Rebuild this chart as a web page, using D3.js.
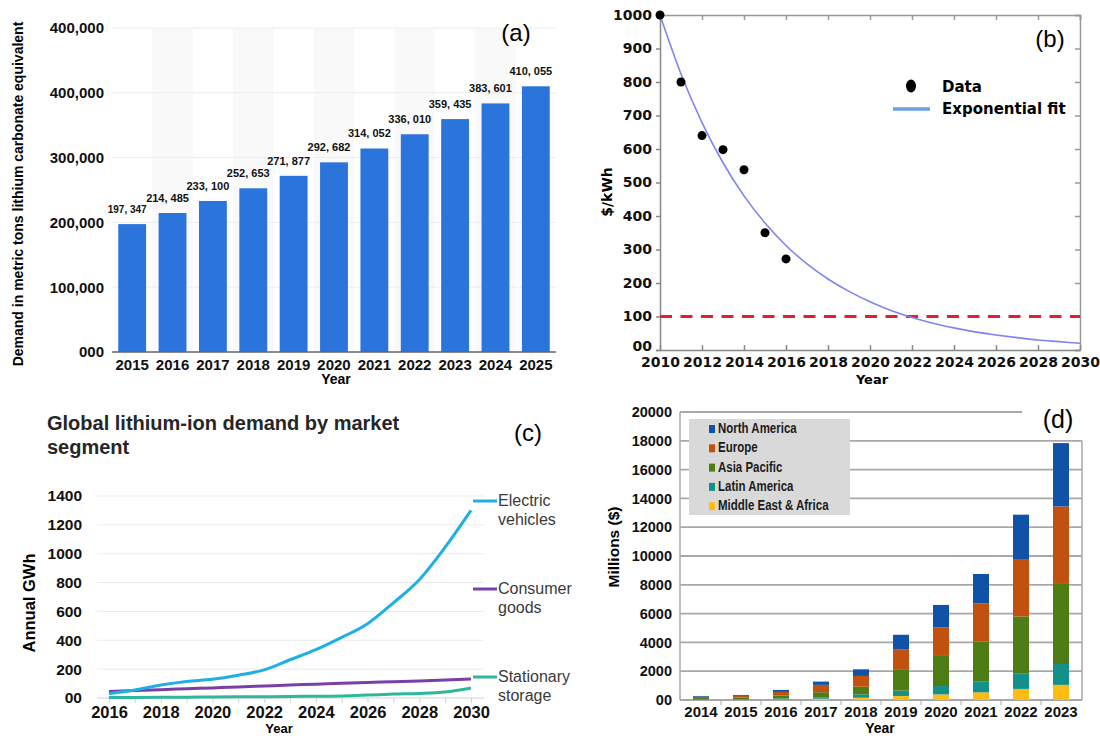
<!DOCTYPE html>
<html>
<head>
<meta charset="utf-8">
<script src="https://cdn.jsdelivr.net/npm/d3@7"></script>
<style>
  body { margin: 0; background: #fff; }
  svg { display: block; }
</style>
</head>
<body>
<div id="fig"></div>
<script>
// ---------- data ----------
// (a) lithium demand
const demandYears = [2015, 2016, 2017, 2018, 2019, 2020, 2021, 2022, 2023, 2024, 2025];
const demandValues = [197347, 214485, 233100, 252653, 271877, 292682, 314052, 336010, 359435, 383601, 410055];
const demandTicks = [0, 100000, 200000, 300000, 400000, 500000];
const demandTickLabels = ["000", "100,000", "200,000", "300,000", "400,000", "400,000"];

// (b) battery pack cost
const costYears = [2010, 2011, 2012, 2013, 2014, 2015, 2016];
const costValues = [1000, 800, 640, 598, 538, 350, 272];
const fitYears = [2010, 2011, 2012, 2013, 2014, 2015, 2016, 2017, 2018, 2019, 2020,
                  2021, 2022, 2023, 2024, 2025, 2026, 2027, 2028, 2029, 2030];
const fitValues = [1000, 824, 679, 559, 460, 379, 312, 257, 212, 175, 144,
                   118, 97, 80, 66, 54, 45, 37, 30, 25, 20];
const costTarget = 100;
const costTicks = [0, 100, 200, 300, 400, 500, 600, 700, 800, 900, 1000];
const costTickLabels = ["00", "100", "200", "300", "400", "500", "600", "700", "800", "900", "1000"];
const costYearTicks = [2010, 2012, 2014, 2016, 2018, 2020, 2022, 2024, 2026, 2028, 2030];

// (c) demand by market segment
const segYears = [2016, 2017, 2018, 2019, 2020, 2021, 2022, 2023, 2024, 2025, 2026, 2027, 2028, 2029, 2030];
const evValues = [30, 55, 90, 115, 130, 158, 195, 265, 335, 420, 515, 660, 820, 1045, 1300];
const consumerValues = [45, 52, 58, 64, 70, 76, 83, 90, 96, 103, 108, 113, 118, 124, 132];
const storageValues = [3, 4, 5, 6, 7, 8, 9, 10, 12, 14, 20, 27, 32, 42, 70];
const segTicks = [0, 200, 400, 600, 800, 1000, 1200, 1400];
const segTickLabels = ["00", "200", "400", "600", "800", "1000", "1200", "1400"];

// (d) market by region, millions $
const regionYears = [2014, 2015, 2016, 2017, 2018, 2019, 2020, 2021, 2022, 2023];
const meaValues = [15, 20, 40, 90, 160, 280, 390, 530, 770, 1050];
const latamValues = [30, 40, 70, 100, 230, 370, 580, 740, 1090, 1450];
const apacValues = [90, 120, 200, 350, 540, 1440, 2090, 2780, 3940, 5560];
const europeValues = [95, 110, 250, 510, 740, 1440, 1990, 2660, 3940, 5380];
const naValues = [50, 60, 140, 230, 460, 1000, 1550, 2040, 3130, 4400];
const regionTicks = [0, 2000, 4000, 6000, 8000, 10000, 12000, 14000, 16000, 18000, 20000];
const regionTickLabels = ["00", "2000", "4000", "6000", "8000", "10000", "12000", "14000", "16000", "18000", "20000"];

// ---------- canvas ----------
const svg = d3.select("#fig").append("svg")
    .attr("width", 1100)
    .attr("height", 736)
    .style("font-family", "'Liberation Sans', Arial, sans-serif");

const BOLD = "'Liberation Sans', Arial, sans-serif";
const WIDE = "'DejaVu Sans', Verdana, sans-serif";

function styleAxis(g, size, family) {
    g.select(".domain").remove();
    g.selectAll("text")
        .attr("fill", "#111")
        .style("font-family", family)
        .style("font-weight", "bold")
        .style("font-size", size + "px");
}

// ================= (a) =================
const xA = d3.scaleBand().domain(demandYears).range([112, 556]).paddingInner(0.31).paddingOuter(0.155);
const yA = d3.scaleLinear().domain([0, 500000]).range([352, 28]);
const gA = svg.append("g");

// faint alternate column shading
gA.append("g").selectAll("rect")
    .data(demandYears.filter((d, i) => i % 2 === 1))
    .join("rect")
    .attr("x", d => xA(d) - xA.step() * xA.paddingInner() / 2)
    .attr("width", xA.step())
    .attr("y", yA(500000))
    .attr("height", yA(0) - yA(500000))
    .attr("fill", "#f9f9f9");

gA.append("g").selectAll("line")
    .data(demandTicks.slice(1))
    .join("line")
    .attr("x1", 112).attr("x2", 556)
    .attr("y1", d => yA(d)).attr("y2", d => yA(d))
    .attr("stroke", "#ececec");

gA.append("g").selectAll("rect")
    .data(demandYears)
    .join("rect")
    .attr("x", d => xA(d))
    .attr("width", xA.bandwidth())
    .attr("y", (d, i) => yA(demandValues[i]))
    .attr("height", (d, i) => yA(0) - yA(demandValues[i]))
    .attr("fill", "#2a74dc");

gA.append("g").selectAll("text")
    .data(demandYears)
    .join("text")
    .attr("x", d => xA(d) + xA.bandwidth() / 2 - 5)
    .attr("y", (d, i) => yA(demandValues[i]) - 11)
    .attr("text-anchor", "middle")
    .style("font-weight", "bold")
    .style("font-size", (d, i) => i === 0 ? "10px" : "11px")
    .attr("fill", "#111")
    .text((d, i) => d3.format(",")(demandValues[i]).replace(",", ", "));

gA.append("line")
    .attr("x1", 112).attr("x2", 556)
    .attr("y1", yA(0)).attr("y2", yA(0))
    .attr("stroke", "#666").attr("stroke-width", 1.5);

gA.append("g")
    .attr("transform", "translate(112,0)")
    .call(d3.axisLeft(yA).tickValues(demandTicks).tickFormat((d, i) => demandTickLabels[i]).tickSize(0).tickPadding(8))
    .call(g => styleAxis(g, 15, BOLD));

gA.append("g")
    .attr("transform", `translate(0,${yA(0)})`)
    .call(d3.axisBottom(xA).tickSize(0).tickPadding(7))
    .call(g => styleAxis(g, 15, BOLD));

gA.append("text")
    .attr("transform", "translate(23,194) rotate(-90)")
    .attr("text-anchor", "middle")
    .style("font-weight", "bold").style("font-size", "14px")
    .text("Demand in metric tons lithium carbonate equivalent");

gA.append("text")
    .attr("x", 336).attr("y", 384)
    .attr("text-anchor", "middle")
    .style("font-weight", "bold").style("font-size", "14px")
    .text("Year");

gA.append("text")
    .attr("x", 516).attr("y", 41)
    .attr("text-anchor", "middle")
    .style("font-size", "24px")
    .text("(a)");

// ================= (b) =================
const xB = d3.scaleLinear().domain([2010, 2030]).range([660, 1080]);
const yB = d3.scaleLinear().domain([0, 1000]).range([350, 15]);
const gB = svg.append("g");

// frame
gB.append("g")
    .attr("transform", `translate(0,${yB(1000)})`)
    .call(d3.axisTop(xB).tickValues(costYearTicks).tickSize(-5).tickFormat(""))
    .call(g => g.selectAll("path,line").attr("stroke", "#999").attr("stroke-width", 1.5));
gB.append("g")
    .attr("transform", `translate(${xB(2030)},0)`)
    .call(d3.axisRight(yB).tickValues(costTicks).tickSize(-5).tickFormat(""))
    .call(g => g.selectAll("path,line").attr("stroke", "#999").attr("stroke-width", 1.5));

gB.append("g")
    .attr("transform", `translate(${xB(2010)},0)`)
    .call(d3.axisLeft(yB).tickValues(costTicks).tickFormat((d, i) => costTickLabels[i]).tickSize(4).tickPadding(4))
    .call(g => {
        g.selectAll("text").attr("fill", "#111").style("font-family", WIDE)
            .style("font-weight", "bold").style("font-size", "14px");
        g.selectAll("path,line").attr("stroke", "#888").attr("stroke-width", 1.5);
        g.selectAll(".tick").filter(d => d === 0).select("text").attr("y", -4);
    });

gB.append("g")
    .attr("transform", `translate(0,${yB(0)})`)
    .call(d3.axisBottom(xB).tickValues(costYearTicks).tickFormat(d3.format("d")).tickSizeInner(-5).tickSizeOuter(0).tickPadding(7))
    .call(g => {
        g.selectAll("text").attr("fill", "#111").style("font-family", WIDE)
            .style("font-weight", "bold").style("font-size", "14px");
        g.selectAll("path,line").attr("stroke", "#888").attr("stroke-width", 1.5);
    });

gB.append("line")
    .attr("x1", xB(2010)).attr("x2", xB(2030))
    .attr("y1", yB(costTarget)).attr("y2", yB(costTarget))
    .attr("stroke", "#e3202a").attr("stroke-width", 3)
    .attr("stroke-dasharray", "12,8.5");

const fitLine = d3.line()
    .x((d, i) => xB(fitYears[i]))
    .y(d => yB(d))
    .curve(d3.curveMonotoneX);

gB.append("path")
    .datum(fitValues)
    .attr("d", fitLine)
    .attr("fill", "none")
    .attr("stroke", "#7f85ec")
    .attr("stroke-width", 1.6);

gB.append("g").selectAll("circle")
    .data(costValues)
    .join("circle")
    .attr("cx", (d, i) => xB(costYears[i]))
    .attr("cy", d => yB(d))
    .attr("r", 4.5)
    .attr("fill", "#000");

// legend
gB.append("ellipse").attr("cx", 911).attr("cy", 86).attr("rx", 5).attr("ry", 6.5).attr("fill", "#000");
gB.append("line").attr("x1", 893).attr("x2", 930).attr("y1", 109).attr("y2", 109)
    .attr("stroke", "#6aa2de").attr("stroke-width", 3.5);
gB.append("text").attr("x", 942).attr("y", 92)
    .style("font-family", WIDE).style("font-weight", "bold").style("font-size", "15px")
    .text("Data");
gB.append("text").attr("x", 942).attr("y", 114)
    .style("font-family", WIDE).style("font-weight", "bold").style("font-size", "15px")
    .text("Exponential fit");

gB.append("text")
    .attr("transform", "translate(612,192) rotate(-90)")
    .attr("text-anchor", "middle")
    .style("font-family", WIDE).style("font-weight", "bold").style("font-size", "14px")
    .text("$/kWh");

gB.append("text")
    .attr("x", 872).attr("y", 384)
    .attr("text-anchor", "middle")
    .style("font-family", WIDE).style("font-weight", "bold").style("font-size", "13px")
    .text("Year");

gB.append("text")
    .attr("x", 1050).attr("y", 47)
    .attr("text-anchor", "middle")
    .style("font-size", "24px")
    .text("(b)");

// ================= (c) =================
const xC = d3.scaleLinear().domain([2016, 2030]).range([109, 471]);
const yC = d3.scaleLinear().domain([0, 1400]).range([698, 496]);
const gC = svg.append("g");

gC.append("text").attr("x", 47).attr("y", 430)
    .style("font-weight", "bold").style("font-size", "20px").attr("fill", "#262626")
    .text("Global lithium-ion demand by market");
gC.append("text").attr("x", 47).attr("y", 454)
    .style("font-weight", "bold").style("font-size", "20px").attr("fill", "#262626")
    .text("segment");

gC.append("g").selectAll("line")
    .data(segTicks.slice(1))
    .join("line")
    .attr("x1", 97).attr("x2", 484)
    .attr("y1", d => yC(d)).attr("y2", d => yC(d))
    .attr("stroke", "#ebebeb");

gC.append("line")
    .attr("x1", 97).attr("x2", 484)
    .attr("y1", yC(0)).attr("y2", yC(0))
    .attr("stroke", "#d4d4d4").attr("stroke-width", 1.2);

gC.append("g")
    .attr("transform", "translate(97,0)")
    .call(d3.axisLeft(yC).tickValues(segTicks).tickFormat((d, i) => segTickLabels[i]).tickSize(0).tickPadding(15))
    .call(g => styleAxis(g, 15.5, BOLD));

gC.append("g")
    .attr("transform", `translate(0,${yC(0)})`)
    .call(d3.axisBottom(xC).tickValues(segYears).tickFormat(d => d % 2 === 0 ? d : "").tickSize(5).tickPadding(3))
    .call(g => {
        styleAxis(g, 16.5, BOLD);
        g.selectAll("line").attr("stroke", "#d4d4d4");
    });

const segLine = d3.line()
    .x((d, i) => xC(segYears[i]))
    .y(d => yC(d))
    .curve(d3.curveMonotoneX);

const segSeries = [
    { values: storageValues, color: "#2db79b", label: ["Stationary", "storage"], ly: 677 },
    { values: consumerValues, color: "#7a3fa6", label: ["Consumer", "goods"], ly: 589 },
    { values: evValues, color: "#1eb0e4", label: ["Electric", "vehicles"], ly: 501 }
];

segSeries.forEach(s => {
    gC.append("path")
        .datum(s.values)
        .attr("d", segLine)
        .attr("fill", "none")
        .attr("stroke", s.color)
        .attr("stroke-width", 3);
    gC.append("line")
        .attr("x1", 473).attr("x2", 497)
        .attr("y1", s.ly).attr("y2", s.ly)
        .attr("stroke", s.color).attr("stroke-width", 3);
    gC.append("text")
        .attr("x", 498).attr("y", s.ly + 5)
        .style("font-size", "16px").attr("fill", "#3a3a3a")
        .selectAll("tspan")
        .data(s.label)
        .join("tspan")
        .attr("x", 498)
        .attr("dy", (d, i) => i === 0 ? 0 : 18.5)
        .text(d => d);
});

gC.append("text")
    .attr("transform", "translate(35,603) rotate(-90)")
    .attr("text-anchor", "middle")
    .style("font-weight", "bold").style("font-size", "16.5px")
    .text("Annual GWh");

gC.append("text")
    .attr("x", 279).attr("y", 733)
    .attr("text-anchor", "middle")
    .style("font-weight", "bold").style("font-size", "13px")
    .text("Year");

gC.append("text")
    .attr("x", 528).attr("y", 441)
    .attr("text-anchor", "middle")
    .style("font-size", "24px")
    .text("(c)");

// ================= (d) =================
const regionKeys = ["mea", "latam", "apac", "europe", "na"];
const regionLabels = {
    na: "North America", europe: "Europe", apac: "Asia Pacific",
    latam: "Latin America", mea: "Middle East & Africa"
};
const regionColors = {
    na: "#0f52a8", europe: "#c2500e", apac: "#4e7c15", latam: "#14908a", mea: "#fdbb14"
};
const regionTable = regionYears.map((y, i) => ({
    year: y, mea: meaValues[i], latam: latamValues[i], apac: apacValues[i],
    europe: europeValues[i], na: naValues[i]
}));

const xD = d3.scaleBand().domain(regionYears).range([681, 1081]).paddingInner(0.6).paddingOuter(0.3);
const yD = d3.scaleLinear().domain([0, 20000]).range([700, 412]);
const gD = svg.append("g");

gD.append("g").selectAll("line")
    .data(regionTicks)
    .join("line")
    .attr("x1", 680)
    .attr("x2", d => d === 20000 ? 1022 : 1082)
    .attr("y1", d => yD(d)).attr("y2", d => yD(d))
    .attr("stroke", "#a8a8a8").attr("stroke-width", 1.8);
gD.append("line")
    .attr("x1", 680).attr("x2", 680).attr("y1", yD(20000)).attr("y2", yD(0))
    .attr("stroke", "#a8a8a8").attr("stroke-width", 1.5);
gD.append("line")
    .attr("x1", 1082).attr("x2", 1082).attr("y1", yD(18000)).attr("y2", yD(0))
    .attr("stroke", "#a8a8a8").attr("stroke-width", 1.5);
// small ticks between categories
gD.append("g").selectAll("line")
    .data(regionYears.slice(1))
    .join("line")
    .attr("x1", d => xD(d) - xD.step() * xD.paddingInner() / 2)
    .attr("x2", d => xD(d) - xD.step() * xD.paddingInner() / 2)
    .attr("y1", yD(0)).attr("y2", yD(0) + 5)
    .attr("stroke", "#a8a8a8");

const stacked = d3.stack().keys(regionKeys)(regionTable);
gD.append("g").selectAll("g")
    .data(stacked)
    .join("g")
    .attr("fill", d => regionColors[d.key])
    .selectAll("rect")
    .data(d => d)
    .join("rect")
    .attr("x", d => xD(d.data.year))
    .attr("width", xD.bandwidth())
    .attr("y", d => yD(d[1]))
    .attr("height", d => yD(d[0]) - yD(d[1]));

gD.append("g")
    .attr("transform", "translate(680,0)")
    .call(d3.axisLeft(yD).tickValues(regionTicks).tickFormat((d, i) => regionTickLabels[i]).tickSize(0).tickPadding(8))
    .call(g => styleAxis(g, 14.5, BOLD));

gD.append("g")
    .attr("transform", `translate(0,${yD(0)})`)
    .call(d3.axisBottom(xD).tickSize(0).tickPadding(6))
    .call(g => styleAxis(g, 15, BOLD));

// legend
gD.append("rect")
    .attr("x", 689).attr("y", 419).attr("width", 161).attr("height", 96)
    .attr("fill", "#d9d9d9");
const legendOrder = ["na", "europe", "apac", "latam", "mea"];
const lg = gD.append("g").selectAll("g")
    .data(legendOrder)
    .join("g")
    .attr("transform", (d, i) => `translate(709,${433 + i * 19.3})`);
lg.append("rect")
    .attr("x", 0).attr("y", -8).attr("width", 6).attr("height", 8)
    .attr("fill", d => regionColors[d]);
lg.append("text")
    .attr("transform", "translate(9,0) scale(0.82,1)")
    .style("font-weight", "bold").style("font-size", "14px").attr("fill", "#1c1c1c")
    .text(d => regionLabels[d]);

gD.append("text")
    .attr("transform", "translate(619,547) rotate(-90)")
    .attr("text-anchor", "middle")
    .style("font-weight", "bold").style("font-size", "15.5px")
    .text("Millions ($)");

gD.append("text")
    .attr("x", 880).attr("y", 733)
    .attr("text-anchor", "middle")
    .style("font-weight", "bold").style("font-size", "14px")
    .text("Year");

gD.append("text")
    .attr("x", 1058).attr("y", 428)
    .attr("text-anchor", "middle")
    .style("font-size", "25px")
    .text("(d)");
</script>
</body>
</html>
